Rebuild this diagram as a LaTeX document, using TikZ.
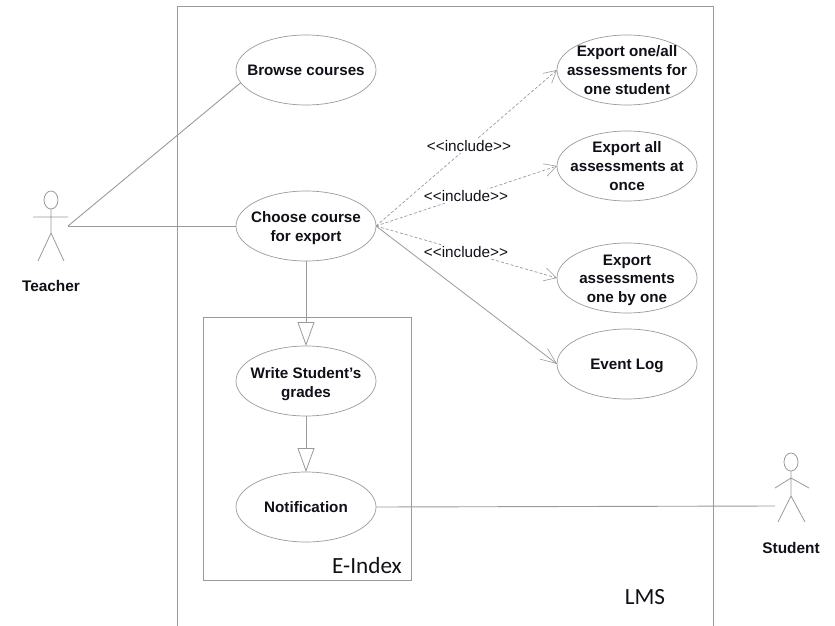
\documentclass[tikz,border=0pt]{standalone}
\usepackage{fontspec}
\setmainfont{Liberation Sans}
\newfontfamily\framefont{Carlito}
\usetikzlibrary{shapes.geometric,arrows.meta}
\definecolor{lineg}{HTML}{9A9A9A}
\definecolor{inkc}{HTML}{101018}
\newcommand{\lowered}[1]{\rule{0pt}{#1}}
\tikzset{
  usecase/.style={draw=lineg,ellipse,fill=white,minimum width=140pt,minimum height=70pt,inner xsep=-35pt,inner ysep=-18pt,outer sep=0pt,align=center,font=\bfseries\fontsize{15.2}{18.6}\selectfont,text=inkc,line width=.7pt},
  assoc/.style={draw=lineg,line width=.9pt},
  incl/.style={draw=lineg,line width=.7pt,dash pattern=on 3pt off 2pt,-{Straight Barb[length=12pt,width=13pt,line width=.6pt]}},
  dep/.style={draw=lineg,line width=.8pt,-{Straight Barb[length=16pt,width=13pt,line width=.6pt]}},
  gener/.style={draw=lineg,line width=.9pt,-{Triangle[open,fill=white,length=24pt,width=17pt,line width=.8pt]}},
  inclabel/.style={fill=white,inner sep=1pt,text=inkc,font=\fontsize{15.3}{17}\selectfont},
  actorname/.style={text=inkc,font=\bfseries\fontsize{15.4}{17}\selectfont},
  framename/.style={text=inkc,font=\framefont\fontsize{23.2}{25}\selectfont},
  stick/.style={draw=lineg,line width=.8pt},
  framebox/.style={draw=lineg,line width=.9pt}
}
\begin{document}
\begin{tikzpicture}[x=1pt,y=-1pt]
\useasboundingbox (0,0) rectangle (835,626);
% frames
\draw[framebox] (177,626) -- (177,6) -- (713,6) -- (713,626);
\draw[framebox] (203,317) rectangle (411,580);
\node[framename] (lms) at (645,597) {LMS};
\node[framename] (eindex) at (367,566) {E-Index};
% use cases
\node[usecase] (browse) at (306,70) {Browse courses};
\node[usecase] (choose) at (306,226) {\lowered{15pt}Choose course\\for export};
\node[usecase] (write) at (306,381) {\lowered{17pt}Write Student's\\grades};
\node[usecase] (notif) at (306,507) {Notification};
\node[usecase] (expone) at (627,70) {Export one/all\\assessments for\\one student};
\node[usecase] (expall) at (627,166) {Export all\\assessments at\\once};
\node[usecase] (expby) at (627,278) {\lowered{15pt}Export\\assessments\\one by one};
\node[usecase] (evlog) at (627,364) {\lowered{15pt}Event Log};
% actors
\draw[stick] (51,200) ellipse (7pt and 9pt);
\draw[stick] (51,209) -- (51,233) (33,217) -- (68,217) (38,261) -- (51,233) -- (64,261);
\node[actorname] (teacher) at (51,286) {Teacher};
\draw[stick] (791,462) ellipse (7pt and 9pt);
\draw[stick] (791,471) -- (791,496) (775,488) -- (791,478) -- (809,488) (778,522) -- (791,496) -- (805,522);
\node[actorname] (student) at (791,548) {Student};
\coordinate (teachhand) at (68,226);
\coordinate (studhand) at (775,506);
% connectors
\draw[assoc] (teachhand) -- (browse.191);
\draw[assoc] (teachhand) -- (choose.west);
\draw[assoc] (notif.east) -- (studhand);
\draw[gener] (choose.south) -- (write.north);
\draw[gener] (write.south) -- (notif.north);
\draw[dep] (choose.east) -- (evlog.west);
\draw[incl] (choose.east) -- (expone.west);
\draw[incl] (choose.east) -- (expall.west);
\draw[incl] (choose.east) -- (expby.west);
\node[inclabel] (inc1) at (469,146) {<{}<include>{}>};
\node[inclabel] (inc2) at (466,196) {<{}<include>{}>};
\node[inclabel] (inc3) at (466,252) {<{}<include>{}>};
\end{tikzpicture}
\end{document}
